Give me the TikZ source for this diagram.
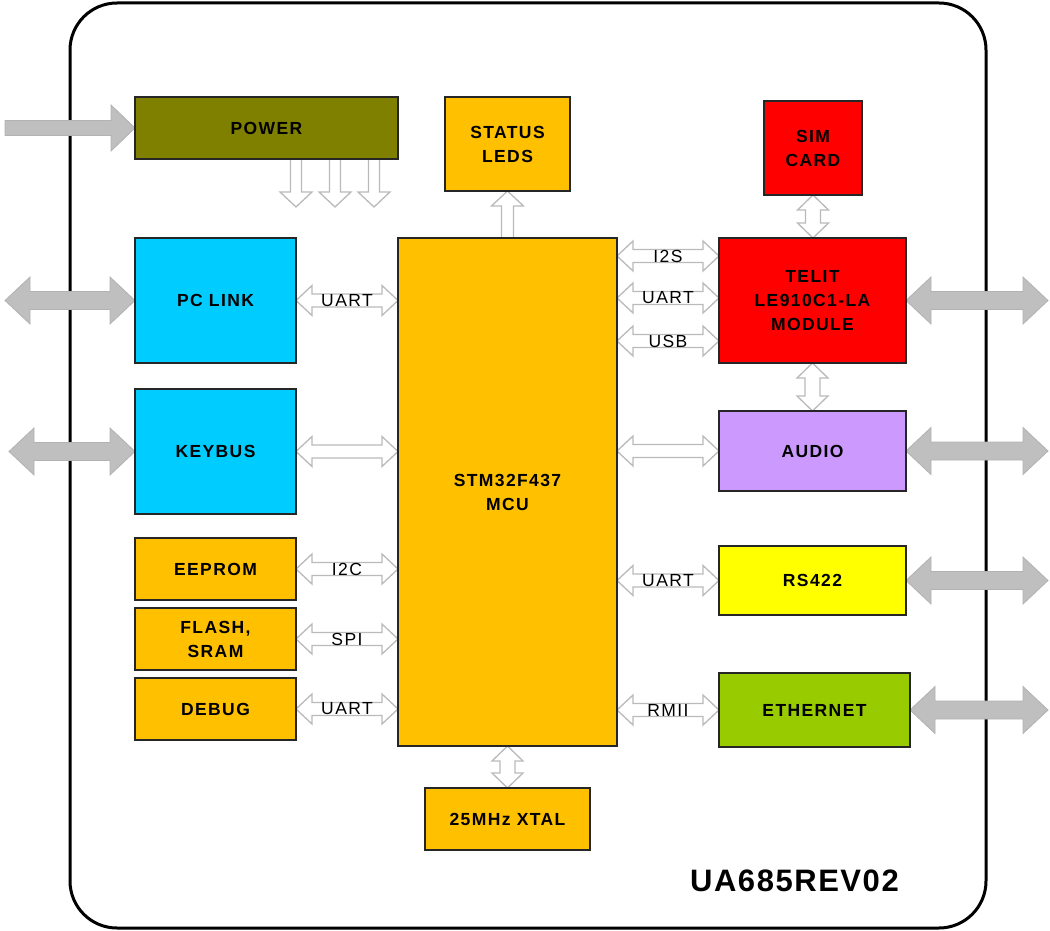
\documentclass[tikz,border=0pt]{standalone}
\usepackage{fontspec}
\setmainfont{Liberation Sans}[LetterSpace=8]
\newfontfamily\tagfont{Liberation Sans}[LetterSpace=5]
\usetikzlibrary{calc,backgrounds}
\definecolor{cOlive}{RGB}{128,128,0}
\definecolor{cOrange}{RGB}{255,192,0}
\definecolor{cRed}{RGB}{255,0,0}
\definecolor{cCyan}{RGB}{0,204,255}
\definecolor{cPurple}{RGB}{204,153,255}
\definecolor{cYellow}{RGB}{255,255,0}
\definecolor{cGreen}{RGB}{153,204,0}
\begin{document}
\begin{tikzpicture}[x=1pt,y=-1pt,
  box/.style={draw=black!85, line width=1.2pt, inner sep=0pt, outer sep=0pt, align=center,
    anchor=north west, font=\bfseries\fontsize{17.5}{24}\selectfont},
  lbl/.style={inner sep=0pt, font=\fontsize{17.5}{19}\selectfont},
  fat/.style={fill=black!25, draw=black!30, line width=0.8pt},
  hol/.style={fill=white, draw=black!27, line width=1.3pt},
  dblarr/.style n args={3}{to path={
     -- ($(\tikztostart)!#1pt!(\tikztotarget)!#2pt!90:(\tikztotarget)$)
     -- ($(\tikztostart)!#1pt!(\tikztotarget)!#3pt!90:(\tikztotarget)$)
     -- ($(\tikztotarget)!#1pt!(\tikztostart)!#3pt!-90:(\tikztostart)$)
     -- ($(\tikztotarget)!#1pt!(\tikztostart)!#2pt!-90:(\tikztostart)$)
     -- (\tikztotarget)
     -- ($(\tikztotarget)!#1pt!(\tikztostart)!#2pt!90:(\tikztostart)$)
     -- ($(\tikztotarget)!#1pt!(\tikztostart)!#3pt!90:(\tikztostart)$)
     -- ($(\tikztostart)!#1pt!(\tikztotarget)!#3pt!-90:(\tikztotarget)$)
     -- ($(\tikztostart)!#1pt!(\tikztotarget)!#2pt!-90:(\tikztotarget)$)
     -- cycle}},
  sarr/.style n args={3}{to path={
     -- ($(\tikztostart)!#3pt!90:(\tikztotarget)$)
     -- ($(\tikztotarget)!#1pt!(\tikztostart)!#3pt!-90:(\tikztostart)$)
     -- ($(\tikztotarget)!#1pt!(\tikztostart)!#2pt!-90:(\tikztostart)$)
     -- (\tikztotarget)
     -- ($(\tikztotarget)!#1pt!(\tikztostart)!#2pt!90:(\tikztostart)$)
     -- ($(\tikztotarget)!#1pt!(\tikztostart)!#3pt!90:(\tikztostart)$)
     -- ($(\tikztostart)!#3pt!-90:(\tikztotarget)$)
     -- cycle}},
  fatdbl/.style={fat, dblarr={25}{23.5}{9}},
  fatone/.style={fat, sarr={24}{23}{7.5}},
  thindbl/.style={hol, dblarr={16}{15}{6.5}},
  vdbl/.style={hol, dblarr={15}{15.5}{7.5}},
  thinone/.style={hol, sarr={15}{16}{5.5}}
]
\useasboundingbox (0,0) rectangle (1050,931);

% boxes
\node[box, fill=cOlive, minimum width=263pt, minimum height=62pt] (power) at (135,97) {POWER};
\node[box, fill=cOrange, minimum width=125pt, minimum height=94pt] (status) at (445,97) {STATUS\\LEDS};
\node[box, fill=cRed, minimum width=98pt, minimum height=94pt] (sim) at (764,101) {SIM\\CARD};
\node[box, fill=cRed, minimum width=187pt, minimum height=125pt] (telit) at (719,238) {TELIT\\LE910C1-LA\\MODULE};
\node[box, fill=cPurple, minimum width=187pt, minimum height=80pt] (audio) at (719,411) {AUDIO};
\node[box, fill=cYellow, minimum width=187pt, minimum height=69pt] (rs422) at (719,546) {RS422};
\node[box, fill=cGreen, minimum width=191pt, minimum height=74pt] (eth) at (719,673) {ETHERNET};
\node[box, fill=cCyan, minimum width=161pt, minimum height=125pt] (pclink) at (135,238) {PC LINK};
\node[box, fill=cCyan, minimum width=161pt, minimum height=125pt] (keybus) at (135,389) {KEYBUS};
\node[box, fill=cOrange, minimum width=161pt, minimum height=62pt] (eeprom) at (135,538) {EEPROM};
\node[box, fill=cOrange, minimum width=161pt, minimum height=62pt] (flash) at (135,608) {FLASH,\\SRAM};
\node[box, fill=cOrange, minimum width=161pt, minimum height=62pt] (debug) at (135,678) {DEBUG};
\node[box, fill=cOrange, minimum width=219pt, minimum height=508pt] (mcu) at (398,238) {STM32F437\\MCU};
\node[box, fill=cOrange, minimum width=165pt, minimum height=62pt] (xtal) at (425,788) {25MHz XTAL};

\node[anchor=east, inner sep=0pt, font=\tagfont\bfseries\fontsize{31}{36}\selectfont] (tag) at (899,881) {UA685REV02};

% free ends
\coordinate (pwrL) at (5,128);
\coordinate (pcL) at (5,300.5);
\coordinate (kbL) at (9,451.5);
\coordinate (telR) at (1048,300.5);
\coordinate (audR) at (1048,451);
\coordinate (rsR) at (1048,580.5);
\coordinate (ethR) at (1048,710);
\coordinate (pd1) at (296,207);
\coordinate (pd2) at (335,207);
\coordinate (pd3) at (374,207);
\coordinate (i2sT) at ($(telit.west)+(0,-44.5)$);
\coordinate (uartT) at ($(telit.west)+(0,-2.5)$);
\coordinate (usbT) at ($(telit.west)+(0,40.5)$);

\begin{scope}[on background layer]
  \draw[line width=3pt, rounded corners=47pt] (70,3) rectangle (986,928);
  % external fat arrows
  \draw[fatone] (pwrL) to (power.west);
  \draw[fatdbl] (pclink.west) to (pcL);
  \draw[fatdbl] (keybus.west) to (kbL);
  \draw[fatdbl] (telit.east) to (telR);
  \draw[fatdbl] (audio.east) to (audR);
  \draw[fatdbl] (rs422.east) to (rsR);
  \draw[fatdbl] (eth.east) to (ethR);
  % power outputs
  \draw[thinone] (power.south -| pd1) to (pd1);
  \draw[thinone] (power.south -| pd2) to (pd2);
  \draw[thinone] (power.south -| pd3) to (pd3);
  % status
  \draw[thinone, sarr={15}{16}{6}] (status.south |- mcu.north) to (status.south);
  % vertical links
  \draw[vdbl] (sim.south) to (sim.south |- telit.north);
  \draw[vdbl] (telit.south) to (audio.north);
  \draw[vdbl] (mcu.south) to (xtal.north);
  % horizontal links
  \draw[thindbl] (pclink.east) to (pclink.east -| mcu.west);
  \draw[thindbl] (keybus.east) to (keybus.east -| mcu.west);
  \draw[thindbl] (eeprom.east) to (eeprom.east -| mcu.west);
  \draw[thindbl] (flash.east) to (flash.east -| mcu.west);
  \draw[thindbl] (debug.east) to (debug.east -| mcu.west);
  \draw[thindbl] (i2sT -| mcu.east) to (i2sT);
  \draw[thindbl] (uartT -| mcu.east) to (uartT);
  \draw[thindbl] (usbT -| mcu.east) to (usbT);
  \draw[thindbl] (audio.west -| mcu.east) to (audio.west);
  \draw[thindbl] (rs422.west -| mcu.east) to (rs422.west);
  \draw[thindbl] (eth.west -| mcu.east) to (eth.west);
\end{scope}

% labels
\path (pclink.east) -- node[lbl] {UART} (pclink.east -| mcu.west);
\path (eeprom.east) -- node[lbl] {I2C} (eeprom.east -| mcu.west);
\path (flash.east) -- node[lbl] {SPI} (flash.east -| mcu.west);
\path (debug.east) -- node[lbl] {UART} (debug.east -| mcu.west);
\path (i2sT -| mcu.east) -- node[lbl] {I2S} (i2sT);
\path (uartT -| mcu.east) -- node[lbl] {UART} (uartT);
\path (usbT -| mcu.east) -- node[lbl] {USB} (usbT);
\path (rs422.west -| mcu.east) -- node[lbl] {UART} (rs422.west);
\path (eth.west -| mcu.east) -- node[lbl] {RMII} (eth.west);
\end{tikzpicture}
\end{document}
